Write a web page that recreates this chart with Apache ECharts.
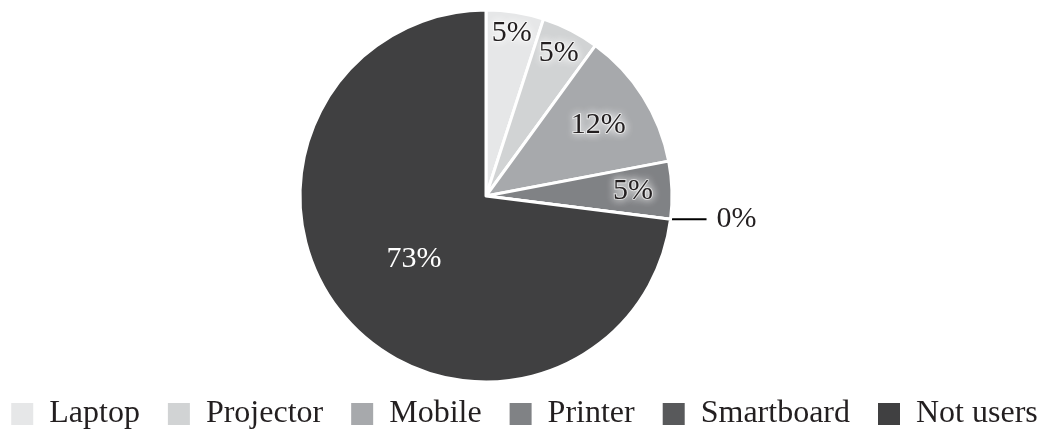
<!DOCTYPE html>
<html>
<head>
<meta charset="utf-8">
<script src="https://cdn.jsdelivr.net/npm/echarts@6/dist/echarts.min.js"></script>
<style>
html,body{margin:0;padding:0;background:#fff;}
#chart{width:1047px;height:432px;}
</style>
</head>
<body>
<div id="chart"></div>
<script>
const categories = ['Laptop', 'Projector', 'Mobile', 'Printer', 'Smartboard', 'Not users'];
const values = [5, 5, 12, 5, 0, 73];
const colors = ['#e6e7e8', '#d1d3d4', '#a7a9ac', '#808285', '#58595b', '#404041'];

const FONT = '"Liberation Serif", "Times New Roman", serif';
const CENTER = [486, 196];
const R = 186;

const darkLabel = {
  color: '#231f20', fontFamily: FONT, fontSize: 30,
  textShadowColor: '#ffffff', textShadowBlur: 8,
  textBorderColor: 'rgba(255,255,255,0.6)', textBorderWidth: 2
};

// main visible pie
const mainData = categories.map((n, i) => {
  const item = { name: n, value: values[i], itemStyle: { color: colors[i] } };
  if (n === 'Smartboard') {
    item.label = { show: true, position: 'outside', distanceToLabelLine: 10, color: '#231f20', fontFamily: FONT, fontSize: 30 };
    item.labelLine = { show: true, length: 0, length2: 36, lineStyle: { color: '#000', width: 2 } };
  } else if (n === 'Not users') {
    item.label = { show: true, position: 'inside', color: '#ffffff', fontFamily: FONT, fontSize: 30 };
  } else {
    item.label = { show: false };
    item.labelLine = { show: false };
  }
  return item;
});

// transparent overlay pie that only places the label of one slice
function overlay(showName, innerR) {
  return {
    type: 'pie', center: CENTER, radius: [innerR, R], startAngle: 90, clockwise: true,
    silent: true, emphasis: { disabled: true }, avoidLabelOverlap: false,
    legendHoverLink: false,
    itemStyle: { color: 'rgba(0,0,0,0)', borderWidth: 0 },
    label: Object.assign({ show: true, position: 'inside', formatter: '{c}%' }, darkLabel),
    labelLine: { show: false },
    data: categories.map((n, i) => ({
      name: n, value: values[i],
      label: { show: n === showName }
    }))
  };
}

const chart = echarts.init(document.getElementById('chart'), null, { renderer: 'canvas' });
chart.setOption({
  animation: false,
  backgroundColor: '#ffffff',
  legend: {
    data: categories,
    left: 'center', top: 393,
    itemWidth: 24, itemHeight: 24, itemGap: 26,
    icon: 'rect',
    textStyle: { fontFamily: FONT, fontSize: 32, color: '#231f20', padding: [0, 0, 0, 10] }
  },
  series: [
    {
      type: 'pie', center: CENTER, radius: [0, R], startAngle: 90, clockwise: true,
      avoidLabelOverlap: false, emphasis: { disabled: true },
      itemStyle: { borderColor: '#ffffff', borderWidth: 3 },
      label: { formatter: '{c}%' },
      data: mainData
    },
    overlay('Laptop', 138),
    overlay('Projector', 128),
    overlay('Mobile', 74),
    overlay('Printer', 102)
  ]
});
</script>
</body>
</html>
